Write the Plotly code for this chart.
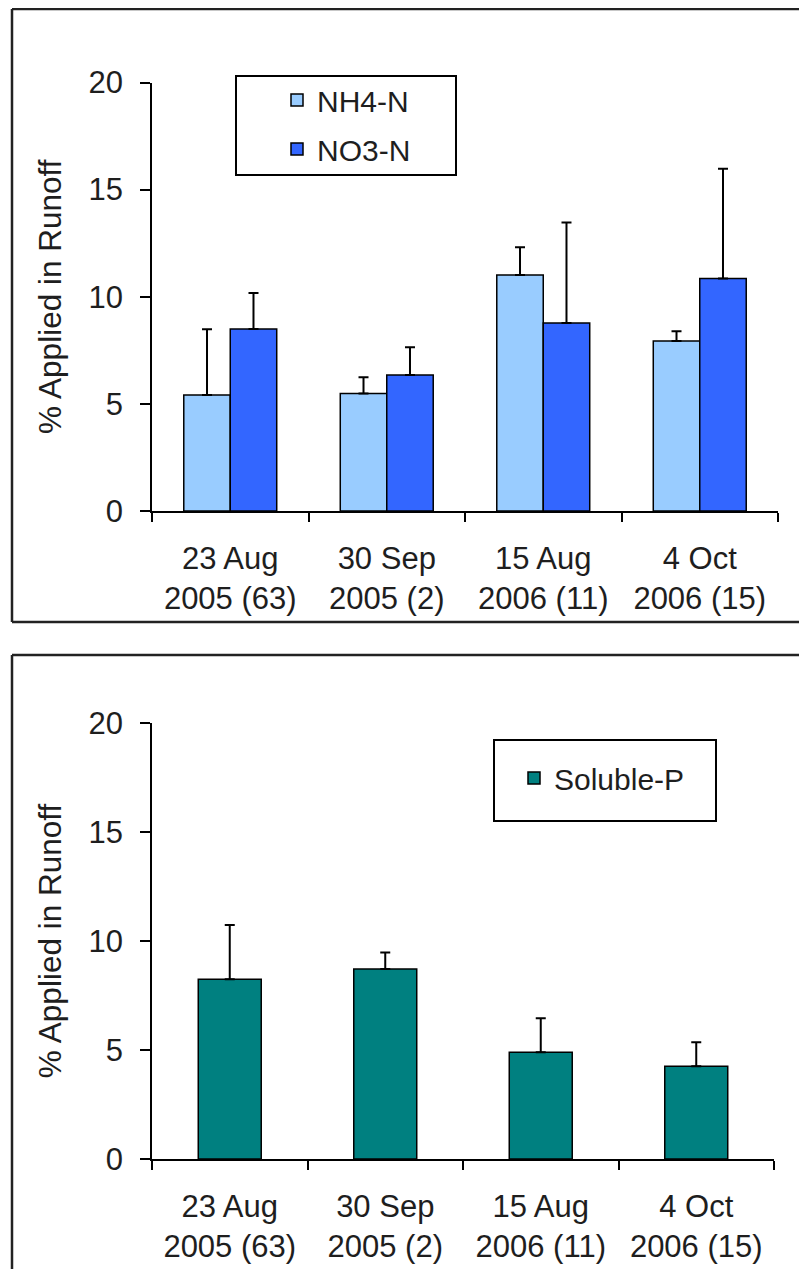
import plotly.graph_objects as go

W, H = 807, 1269
OFF = 8  # the page body adds an 8px margin around the figure

categories = ["23 Aug<br>2005 (63)", "30 Sep<br>2005 (2)", "15 Aug<br>2006 (11)", "4 Oct<br>2006 (15)"]
nh4 = [5.42, 5.49, 11.02, 7.94]
nh4_err = [3.06, 0.75, 1.29, 0.45]
no3 = [8.50, 6.35, 8.78, 10.85]
no3_err = [1.68, 1.29, 4.68, 5.12]
solp = [8.24, 8.72, 4.90, 4.26]
solp_err = [2.49, 0.75, 1.56, 1.10]
y_ticks = [0, 5, 10, 15, 20]
y_title = "% Applied in Runoff"

FONT = "Liberation Sans, Arial, sans-serif"
TXT = "#1e1e1e"


def px(x):
    return (x - OFF) / W


def py(y):
    return 1 - (y - OFF) / H


def err(vals):
    return dict(type="data", array=vals, arrayminus=[0] * len(vals), symmetric=False,
                color="black", thickness=2, width=5)


fig = go.Figure()
fig.add_trace(go.Bar(x=categories, y=nh4, name="NH4-N", width=0.297, offset=-0.297,
                     marker=dict(color="#99CCFF", line=dict(color="black", width=1.5)),
                     error_y=err(nh4_err), xaxis="x", yaxis="y", legend="legend",
                     legendgroup="a"))
fig.add_trace(go.Bar(x=categories, y=no3, name="NO3-N", width=0.297, offset=0,
                     marker=dict(color="#3366FF", line=dict(color="black", width=1.5)),
                     error_y=err(no3_err), xaxis="x", yaxis="y", legend="legend",
                     legendgroup="b"))
fig.add_trace(go.Bar(x=categories, y=solp, name="Soluble-P", width=0.405, offset=-0.2025,
                     marker=dict(color="#008080", line=dict(color="black", width=1.5)),
                     error_y=err(solp_err), xaxis="x2", yaxis="y2", legend="legend2"))

xcommon = dict(type="category", showline=True, linecolor="black", linewidth=1.5,
               ticks="outside", ticklen=9, tickwidth=1.5, tickcolor="black",
               tickson="boundaries", showgrid=False, zeroline=False, fixedrange=True,
               automargin=False,
               tickfont=dict(family=FONT, size=31, color=TXT), ticklabelstandoff=19)
ycommon = dict(range=[0, 20], tickvals=y_ticks, showline=True, linecolor="black",
               linewidth=1.5, ticks="outside", ticklen=10, tickwidth=1.5,
               tickcolor="black", showgrid=False, zeroline=False, fixedrange=True,
               automargin=False,
               tickfont=dict(family=FONT, size=31, color=TXT), ticklabelstandoff=11,
               title=dict(text=y_title, font=dict(family=FONT, size=31.5, color=TXT),
                          standoff=18))

fig.update_layout(
    template="none",
    width=W, height=H, margin=dict(l=0, r=0, t=0, b=0, pad=0, autoexpand=False),
    paper_bgcolor="white", plot_bgcolor="white",
    barmode="group",
    xaxis=dict(domain=[px(152), px(778)], anchor="y", **xcommon),
    yaxis=dict(domain=[py(511), py(82.5)], anchor="x", **ycommon),
    xaxis2=dict(domain=[px(152), px(774)], anchor="y2", **xcommon),
    yaxis2=dict(domain=[py(1159), py(723)], anchor="x2", **ycommon),
    legend=dict(x=px(277), y=py(74), xanchor="left", yanchor="top",
                bgcolor="rgba(0,0,0,0)", borderwidth=0, traceorder="grouped",
                tracegroupgap=7, font=dict(family=FONT, size=30, color=TXT)),
    legend2=dict(x=px(514), y=py(752), xanchor="left", yanchor="top",
                 bgcolor="rgba(0,0,0,0)", borderwidth=0,
                 font=dict(family=FONT, size=30, color=TXT)),
    showlegend=True,
)

shapes = []
# panel frames (right/bottom edges run off the picture)
for (x0, y0, x1, y1) in [(12, 9, 830, 9), (12, 9, 12, 622), (12, 622, 830, 622),
                         (12, 655, 830, 655), (12, 655, 12, 1290)]:
    shapes.append(dict(type="line", xref="paper", yref="paper",
                       x0=px(x0), y0=py(y0), x1=px(x1), y1=py(y1),
                       line=dict(color="#222", width=2.5)))
# legend boxes
for (x0, y0, x1, y1) in [(236, 76, 456, 175), (494, 740, 716, 821)]:
    shapes.append(dict(type="rect", xref="paper", yref="paper",
                       x0=px(x0), y0=py(y0), x1=px(x1), y1=py(y1),
                       line=dict(color="black", width=2), fillcolor="rgba(0,0,0,0)"))
fig.update_layout(shapes=shapes)

fig.write_html("out.html")
